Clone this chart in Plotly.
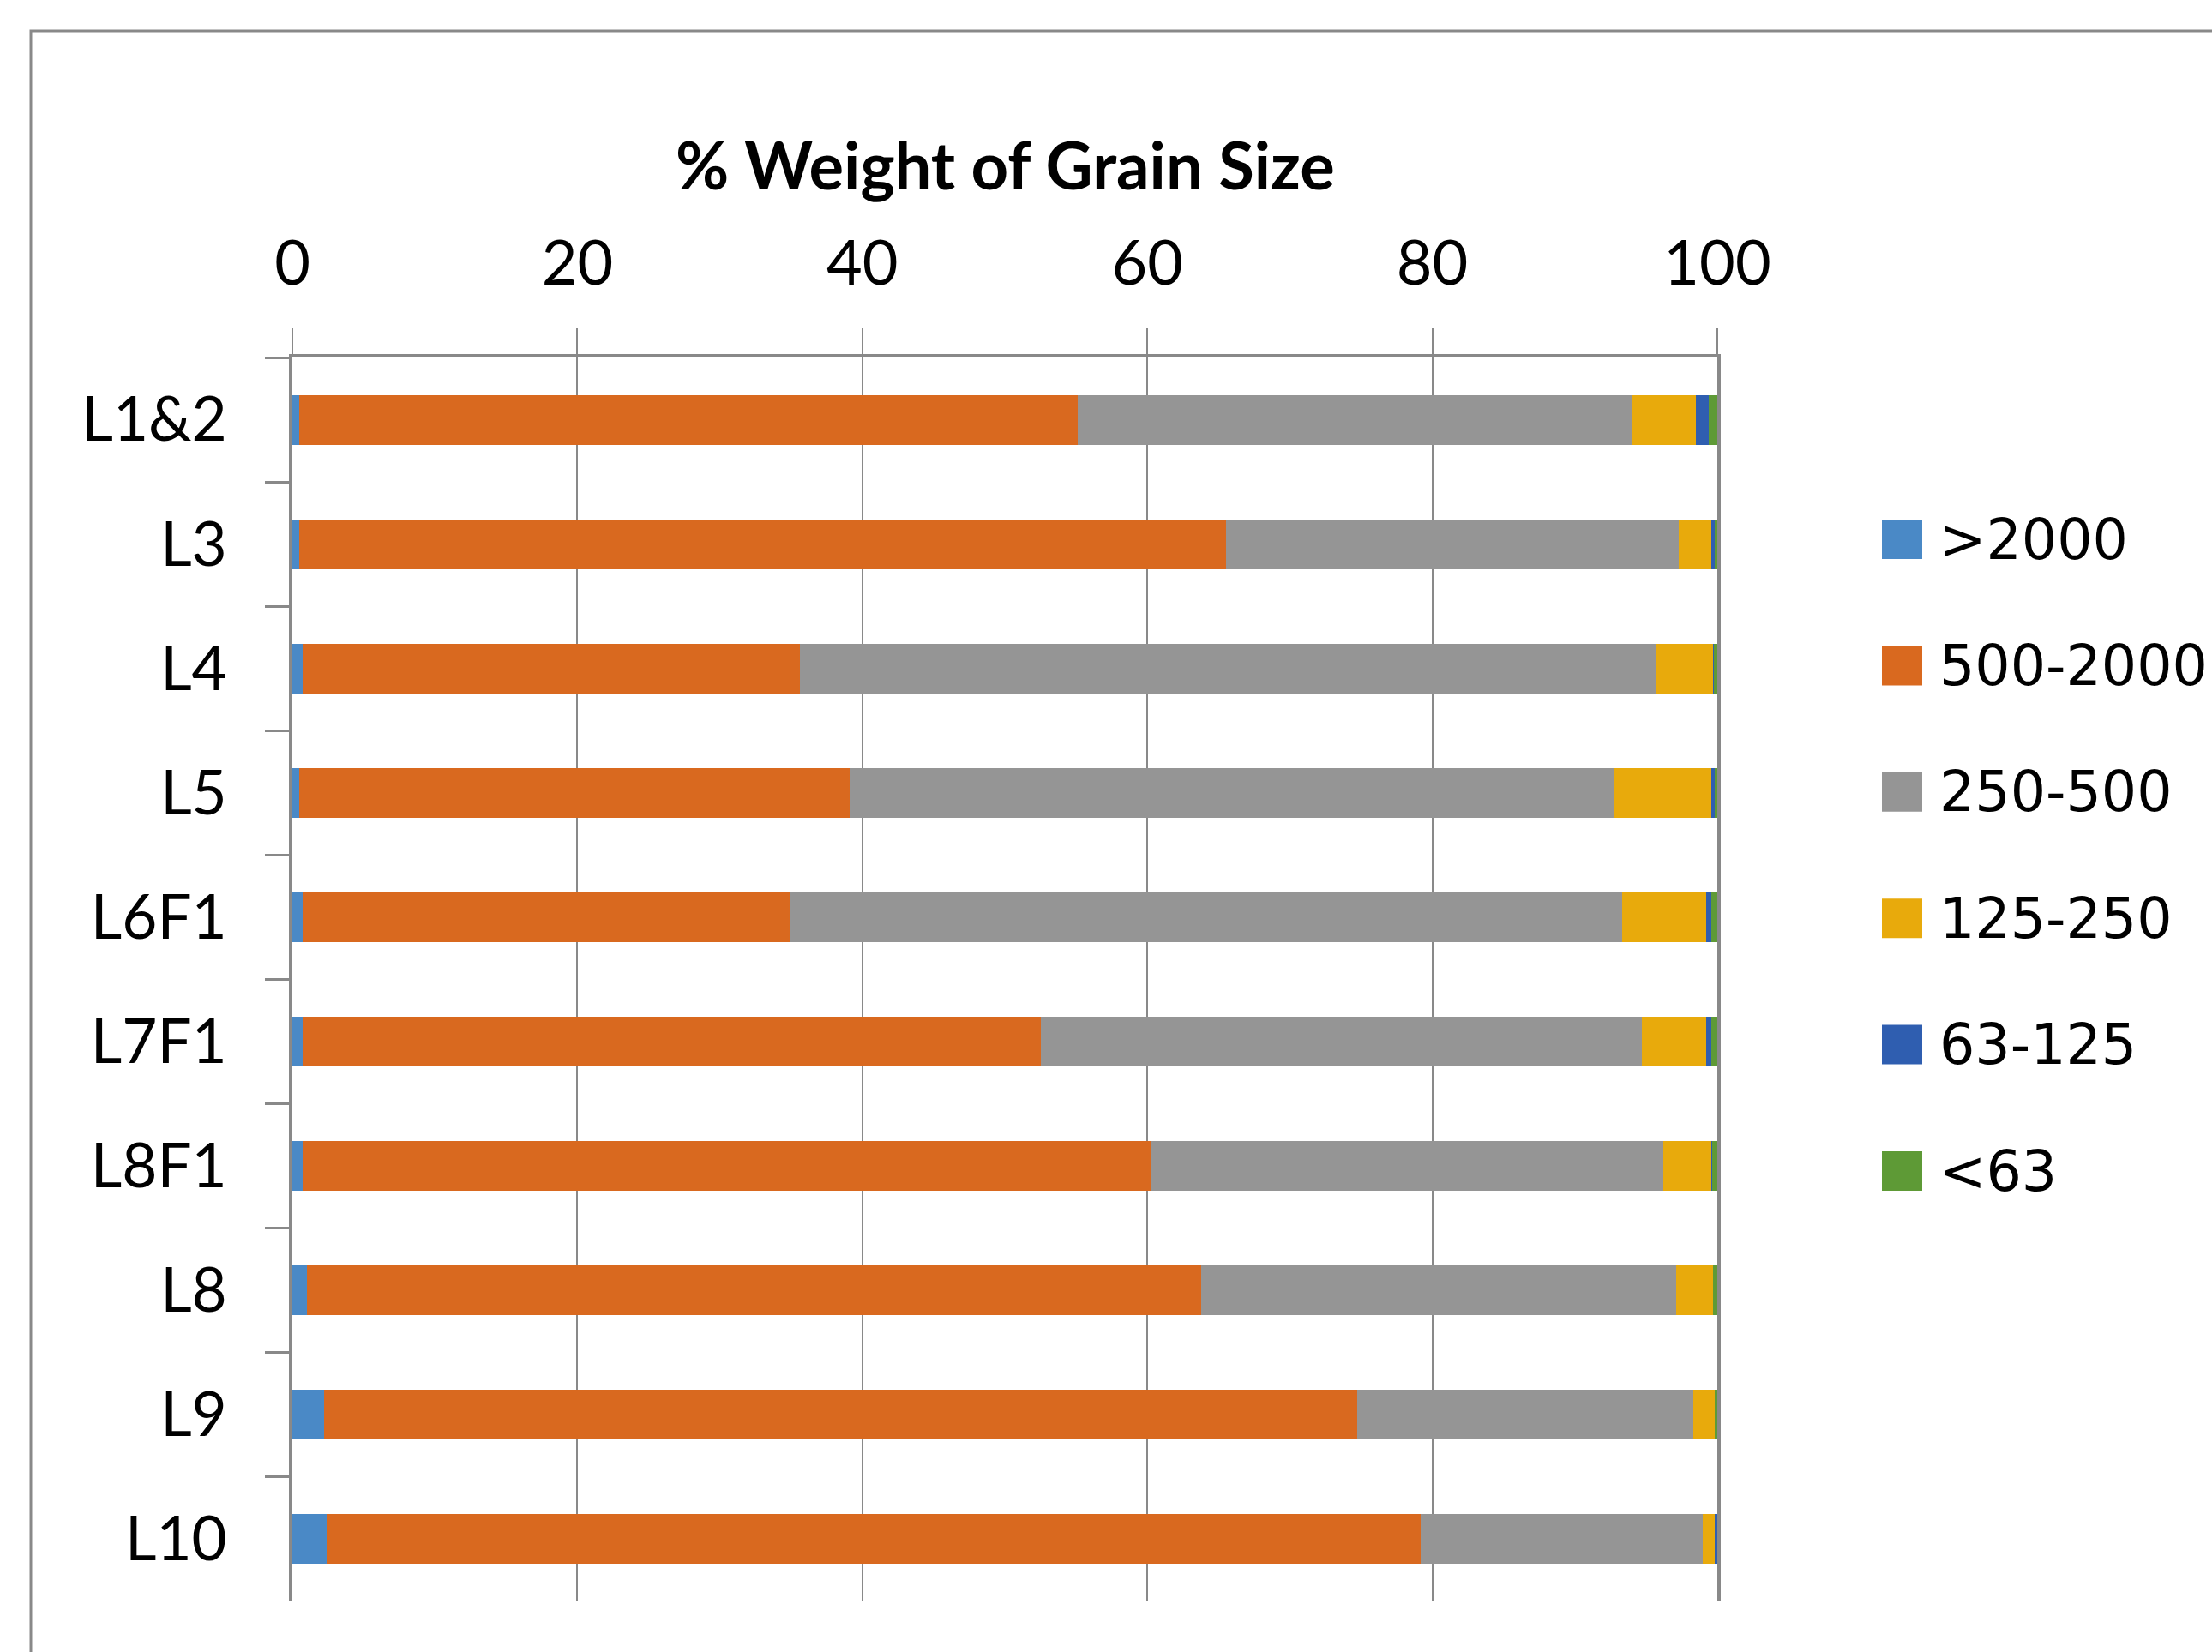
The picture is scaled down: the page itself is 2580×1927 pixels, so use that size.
import plotly.graph_objects as go

# Sample locations (top to bottom) and grain-size classes (microns)
locations = ["L1&2", "L3", "L4", "L5", "L6F1", "L7F1", "L8F1", "L8", "L9", "L10"]
size_classes = [">2000", "500-2000", "250-500", "125-250", "63-125", "<63"]

# % weight retained in each class, one list per class, ordered like `locations`
pct_gt2000 = [0.5, 0.5, 0.7, 0.5, 0.7, 0.7, 0.7, 1.0, 2.2, 2.4]
pct_500_2000 = [54.6, 65.0, 34.9, 38.6, 34.2, 51.8, 59.6, 62.8, 72.5, 76.8]
pct_250_500 = [38.9, 31.8, 60.1, 53.7, 58.4, 42.2, 35.9, 33.3, 23.6, 19.8]
pct_125_250 = [4.5, 2.3, 4.0, 6.8, 5.9, 4.5, 3.4, 2.6, 1.5, 0.8]
pct_63_125 = [0.9, 0.2, 0.05, 0.2, 0.4, 0.4, 0.05, 0.0, 0.0, 0.2]
pct_lt63 = [0.6, 0.2, 0.25, 0.2, 0.4, 0.4, 0.35, 0.3, 0.2, 0.0]

x_ticks = [0, 20, 40, 60, 80, 100]

series = [pct_gt2000, pct_500_2000, pct_250_500, pct_125_250, pct_63_125, pct_lt63]
colors = ["#4A89C6", "#D9691F", "#959595", "#E8AA0C", "#2F5EB0", "#5E9A36"]

W, H = 2580, 1927
PL, PR, PT, PB = 341, 2003, 417, 1868   # plot area in pixels
AX = "#898989"
TICK_FONT = "Lato"
LEGEND_FONT = "DejaVu Sans"


def px_x(px):
    return (px - PL) / (PR - PL)


def px_y(py):
    return (PB - py) / (PB - PT)


fig = go.Figure()
for name, vals, col in zip(size_classes, series, colors):
    fig.add_trace(go.Bar(
        y=locations, x=vals, name=name, orientation="h",
        marker=dict(color=col, line=dict(width=0)),
        showlegend=False,
    ))

# Legend drawn as large swatches with labels to the right of the plot
shapes = []
annotations = []
first_y, step = 629, 147.4
for i, (name, col) in enumerate(zip(size_classes, colors)):
    cy = first_y + i * step
    shapes.append(dict(
        type="rect", xref="paper", yref="paper",
        x0=px_x(2195), x1=px_x(2242), y0=px_y(cy + 23), y1=px_y(cy - 23),
        fillcolor=col, line=dict(width=0),
    ))
    annotations.append(dict(
        xref="paper", yref="paper", x=px_x(2260), y=px_y(cy),
        xanchor="left", yanchor="middle", showarrow=False, text=name,
        font=dict(family=LEGEND_FONT, size=65, color="black"),
    ))

# Chart title
annotations.append(dict(
    xref="paper", yref="paper", x=0.5, y=px_y(191),
    xanchor="center", yanchor="middle", showarrow=False,
    text="<b>% Weight of Grain Size</b>",
    font=dict(family=TICK_FONT, size=76, color="black"),
))

# Outer chart frame
shapes.append(dict(
    type="rect", xref="paper", yref="paper", layer="below",
    x0=px_x(36), x1=px_x(2700), y0=px_y(2000), y1=px_y(36),
    line=dict(color=AX, width=3), fillcolor="rgba(0,0,0,0)",
))

fig.update_layout(
    width=W, height=H,
    margin=dict(l=PL, r=W - PR, t=PT, b=H - PB, pad=0),
    barmode="stack", bargap=0.6,
    paper_bgcolor="white", plot_bgcolor="white",
    shapes=shapes, annotations=annotations,
    showlegend=False,
)
fig.update_xaxes(
    side="top", range=[0, 100], tickvals=x_ticks,
    showgrid=True, gridcolor=AX, gridwidth=2,
    showline=True, linecolor=AX, linewidth=4,
    ticks="outside", ticklen=30, tickwidth=2, tickcolor=AX,
    ticklabelstandoff=22,
    tickfont=dict(family=TICK_FONT, size=72, color="black"),
    zeroline=False, fixedrange=True,
)
fig.update_yaxes(
    type="category", categoryorder="array", categoryarray=locations,
    autorange="reversed",
    showgrid=False, zeroline=False,
    showline=True, linecolor=AX, linewidth=4, mirror=True,
    ticks="outside", tickson="boundaries", ticklen=28, tickwidth=3, tickcolor=AX,
    ticklabelstandoff=58,
    tickfont=dict(family=TICK_FONT, size=71, color="black"),
    fixedrange=True,
)

fig.write_html("out.html")
